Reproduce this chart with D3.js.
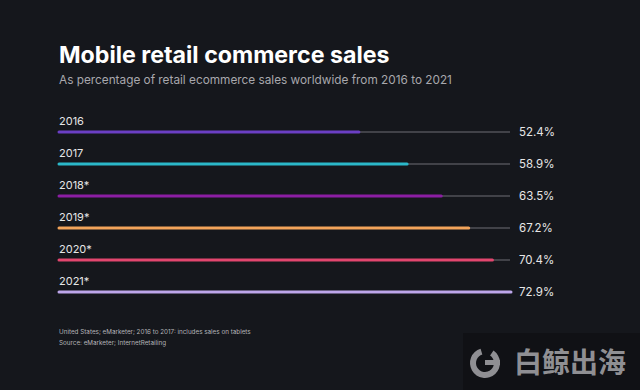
<!DOCTYPE html>
<html><head><meta charset="utf-8">
<script src="https://cdn.jsdelivr.net/npm/d3@7"></script>
<style>html,body{margin:0;padding:0;background:#15171c;}svg{display:block;}</style>
</head><body>
<script>
const years = ["2016","2017","2018*","2019*","2020*","2021*"];
const values = [52.4, 58.9, 63.5, 67.2, 70.4, 72.9];
const colors = ["#6b3fc4","#2bb8c9","#8c1ea3","#f2a45a","#e2466e","#bda6ea"];
const W = 640, H = 390;
const svg = d3.select("body").append("svg").attr("width", W).attr("height", H);
svg.append("rect").attr("width", W).attr("height", H).attr("fill", "#15171c");
const font = "Inter, 'Noto Sans', sans-serif";
svg.append("text").attr("x", 59).attr("y", 63).text("Mobile retail commerce sales")
  .attr("fill", "#ffffff").attr("font-family", font).attr("font-weight", 700).attr("font-size", 23.2);
svg.append("text").attr("x", 59).attr("y", 84).text("As percentage of retail ecommerce sales worldwide from 2016 to 2021")
  .attr("fill", "#a8a8ad").attr("font-family", font).attr("font-size", 11.8);

const x = d3.scaleLinear().domain([12, 72.9]).range([59, 511]);
const y = d3.scalePoint().domain(years).range([132, 292]);
const trackEnd = 510;

const rows = svg.append("g").selectAll("g").data(years).join("g");
rows.append("line").attr("x1", 59).attr("x2", trackEnd)
  .attr("y1", d => y(d)).attr("y2", d => y(d)).attr("stroke", "#6e6f74").attr("stroke-width", 1);
rows.append("line").attr("x1", 59).attr("x2", (d,i) => x(values[i]))
  .attr("y1", d => y(d)).attr("y2", d => y(d)).attr("stroke", (d,i) => colors[i])
  .attr("stroke-width", 3).attr("stroke-linecap", "round");
rows.append("text").attr("x", 59).attr("y", d => y(d) - 7).text(d => d)
  .attr("fill", "#e6e6e6").attr("font-family", font).attr("font-size", 11);
rows.append("text").attr("x", 519).attr("y", d => y(d) + 4).text((d,i) => values[i].toFixed(1) + "%")
  .attr("fill", "#e6e6e6").attr("font-family", font).attr("font-size", 11.5);

const notes = ["United States; eMarketer; 2016 to 2017: includes sales on tablets", "Source: eMarketer; InternetRetailing"];
svg.append("g").selectAll("text").data(notes).join("text")
  .attr("x", 59).attr("y", (d,i) => 334 + i * 11).text(d => d)
  .attr("fill", "#b4b4b8").attr("font-family", font).attr("font-size", 6.3);

// watermark
const wm = svg.append("g");
wm.append("rect").attr("x", 463).attr("y", 333).attr("width", 177).attr("height", 57).attr("fill", "#101115");
wm.append("path").attr("d", d3.arc()({innerRadius: 9, outerRadius: 15, startAngle: 0.6, endAngle: 2 * Math.PI - 0.3}))
  .attr("transform", "translate(485,363)").attr("fill", "#8f8f93");
wm.append("rect").attr("x", 485).attr("y", 360).attr("width", 15).attr("height", 5).attr("fill", "#8f8f93");
wm.append("text").attr("x", 514).attr("y", 373).text("白鲸出海")
  .attr("fill", "#8f8f93").attr("font-family", "'Noto Sans CJK SC'").attr("font-weight", 700).attr("font-size", 28);
</script>
</body></html>
